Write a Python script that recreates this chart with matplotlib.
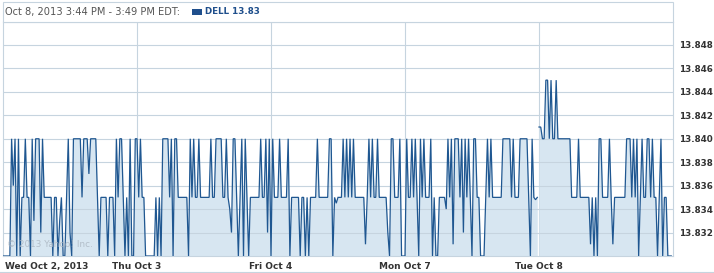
import numpy as np
import matplotlib
matplotlib.use("Agg")
import matplotlib.pyplot as plt
from matplotlib.patches import Rectangle
from matplotlib.lines import Line2D

L, M, H = 13.830, 13.835, 13.840

# 5-minute closes per trading day (78 per day)
oct2 = [L, L, L, L, L, H, 13.836, H, L, H, L, M, M, H, M, M, L, H, 13.833, H,
        H, H, 13.832, H, M, M, M, M, M, L, M, M, L, 13.833, M, L, L, M, H, 13.832,
        L, H, H, H, H, H, 13.835, H, H, H, 13.837, H, H, H, H, M, L, M, M, M,
        M, L, M, M, M, L, H, M, H, H, M, L, M, L, H, L, L, H]
oct3 = [H, M, H, M, M, L, L, L, L, L, L, M, L, M, L, H, H, H, H, M,
        H, L, H, H, M, M, M, M, M, M, L, H, M, H, M, M, H, M, M, M,
        M, M, M, H, M, M, H, H, H, H, M, M, H, M, 13.834, 13.832, H, H, M, L,
        M, H, L, H, M, L, M, M, M, M, M, M, H, M, M, H, 13.832, H]
oct4 = [L, H, M, M, M, H, M, M, M, M, H, L, M, M, M, M, M, L, M, M,
        L, M, L, M, M, M, M, H, M, M, M, M, M, M, H, H, L, M, 13.8345, M,
        M, M, H, M, H, M, H, M, H, M, M, M, M, M, M, 13.831, M, H, M, H,
        M, M, H, M, M, M, M, M, 13.832, L, H, H, M, M, M, H, L, L]
oct7 = [L, H, M, M, H, M, H, M, L, H, M, H, M, M, M, H, L, M, L, L,
        M, M, M, M, 13.834, H, M, H, 13.831, H, H, H, M, H, 13.832, H, M, H, M, L,
        H, H, M, M, L, L, L, M, H, M, H, M, M, M, M, M, M, H, H, H,
        H, H, M, H, M, M, M, H, H, H, H, H, M, L, H, M, 13.8348, M]
oct8 = [13.841, 13.841, H, H, 13.845, 13.845, H, 13.845, H, H, 13.845, H, H, H, H, H, H, H, H, M,
        M, M, M, H, M, M, M, M, M, M, 13.831, M, L, M, L, H, H, M, M, M,
        M, H, M, 13.831, M, M, M, M, M, M, M, H, H, H, M, H, M, H, L, M,
        H, M, M, H, H, M, H, M, M, L, M, H, L, M, M, L, L, L]

days = [oct2, oct3, oct4, oct7, oct8]
day_labels = ["Wed Oct 2, 2013", "Thu Oct 3", "Fri Oct 4", "Mon Oct 7", "Tue Oct 8"]
y_ticks = [13.832, 13.834, 13.836, 13.838, 13.840, 13.842, 13.844, 13.846, 13.848]
y_min, y_max = 13.830, 13.850

header_text = "Oct 8, 2013 3:44 PM - 3:49 PM EDT:"
legend_text = "DELL 13.83"

line_c = "#1f5791"
fill_c = "#d7e6f1"
grid_c = "#c6d4df"
text_c = "#333333"

W, Hgt = 714, 273
fig = plt.figure(figsize=(W / 100, Hgt / 100), dpi=100)
fig.patch.set_facecolor("white")

ax_l, ax_r, ax_t, ax_b = 3, 673, 21.5, 256
ax = fig.add_axes([ax_l / W, (Hgt - ax_b) / Hgt, (ax_r - ax_l) / W, (ax_b - ax_t) / Hgt])

xs_first, ys_first = [], []
for d, vals in enumerate(days[:4]):
    n = len(vals)
    xs_first.extend(d + np.arange(n) / n)
    ys_first.extend(vals)
x5 = 4 + np.arange(len(oct8)) / len(oct8)

for xx, yy in [(np.array(xs_first), np.array(ys_first)), (x5, np.array(oct8))]:
    ax.fill_between(xx, yy, y_min - 0.001, color=fill_c, lw=0, zorder=1)
    ax.plot(xx, yy, color=line_c, lw=0.9, zorder=3, solid_joinstyle="miter")

ax.set_xlim(0, 5)
ax.set_ylim(y_min, y_max)

for yt in y_ticks:
    ax.axhline(yt, color=grid_c, lw=0.8, zorder=2)
for d in range(1, 5):
    ax.axvline(d, color=grid_c, lw=0.8, zorder=0.5)

for s in ax.spines.values():
    s.set_color(grid_c)
    s.set_linewidth(0.8)

ax.yaxis.tick_right()
ax.set_yticks(y_ticks)
ax.set_yticklabels([f"{v:.3f}" for v in y_ticks], fontsize=6.3, fontweight="bold", color=text_c)
ax.tick_params(axis="y", length=0, pad=4)
ax.set_xticks([0.015, 1, 2, 3, 4])
ax.set_xticklabels(day_labels, fontsize=6.5, fontweight="bold", color=text_c)
ax.tick_params(axis="x", length=0, pad=4)
ax.get_xticklabels()[0].set_horizontalalignment("left")

ax.text(0.006, 0.05, "\u00a9 2013 Yahoo! Inc.", transform=ax.transAxes, fontsize=6.4,
        color="#a9b4bf", alpha=0.8, ha="left", va="center", zorder=4)

fig.add_artist(Rectangle((ax_l / W, (Hgt - ax_t) / Hgt), (ax_r - ax_l) / W, (ax_t - 2) / Hgt,
                         transform=fig.transFigure, facecolor="white", edgecolor=grid_c, lw=0.8))
fig.add_artist(Line2D([0, 1], [1.5 / Hgt, 1.5 / Hgt], transform=fig.transFigure, color=grid_c, lw=0.8))
fig.text(5 / W, 1 - 12 / Hgt, header_text, fontsize=7.1, color="#555555", ha="left", va="center")
fig.add_artist(Rectangle((192 / W, 1 - 14.5 / Hgt), 10 / W, 5 / Hgt, transform=fig.transFigure,
                         facecolor="#1f4f8c", edgecolor="none"))
fig.text(205 / W, 1 - 12 / Hgt, legend_text, fontsize=6.3, fontweight="bold", color="#1f4f8c",
         ha="left", va="center")

fig.savefig("out.png", dpi=100)
